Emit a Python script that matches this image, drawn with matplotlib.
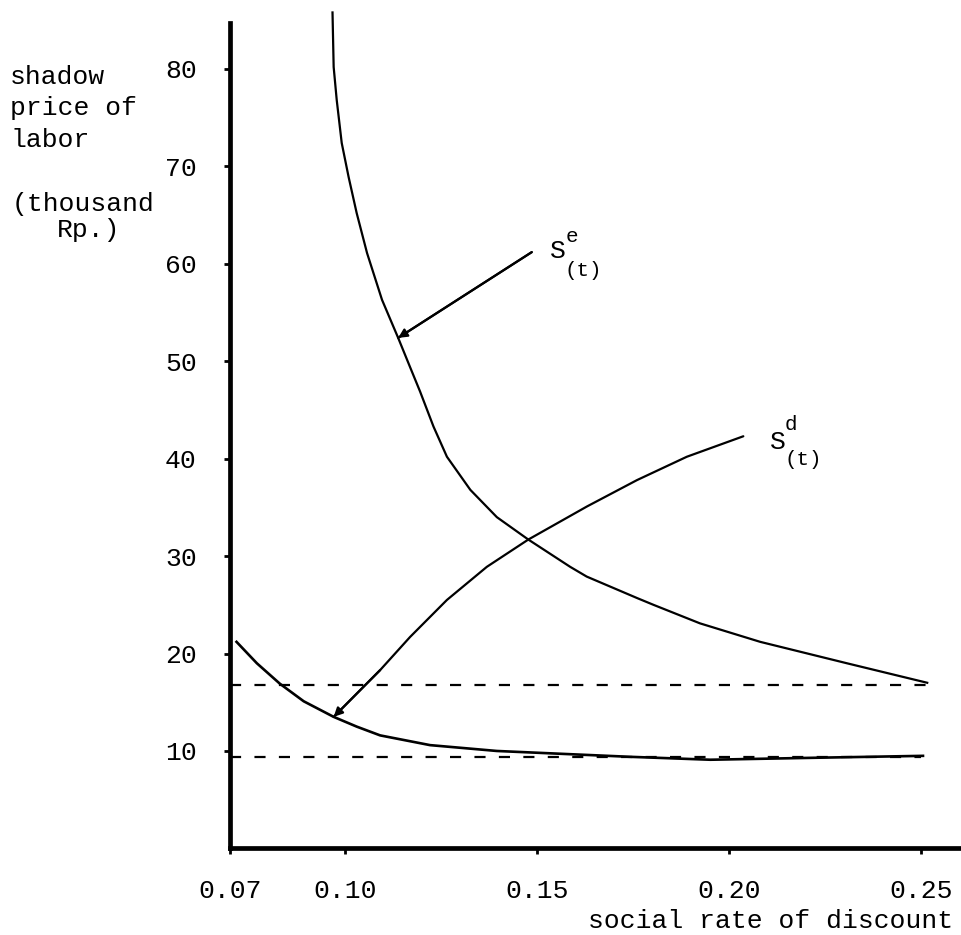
import matplotlib
matplotlib.use('Agg')
import matplotlib.pyplot as plt

# social rate of discount (x) vs shadow price of labor, thousand Rp. (y)
se_x = [0.0967, 0.0970, 0.0978, 0.0991, 0.1009, 0.1030, 0.1057, 0.1096, 0.1138, 0.1169,
        0.1195, 0.1230, 0.1265, 0.1326, 0.1395, 0.1477, 0.1586, 0.1629, 0.1760, 0.1803,
        0.1924, 0.2081, 0.2307, 0.2516]
se_y = [85.8, 80.2, 76.8, 72.4, 68.9, 65.2, 61.1, 56.3, 52.4, 49.4,
        46.9, 43.3, 40.2, 36.8, 34.0, 31.7, 28.9, 27.9, 25.7, 25.0,
        23.1, 21.2, 19.0, 17.0]

sd_x = [0.0717, 0.0770, 0.0830, 0.0892, 0.0970, 0.1030, 0.1091, 0.1221, 0.1395,
        0.1568, 0.1742, 0.1951, 0.2220, 0.2505]
sd_y = [21.2, 19.0, 16.9, 15.1, 13.5, 12.5, 11.6, 10.6, 10.0,
        9.7, 9.4, 9.1, 9.3, 9.5]

# dashed reference levels
upper_level = 16.8
upper_level_x = [0.07, 0.2525]
lower_level = 9.35
lower_level_x = [0.07, 0.2500]

# pointer lines from the labels to the curves
arrow_e_x = [0.1486, 0.1138]
arrow_e_y = [61.2, 52.4]
arrow_d_x = [0.2037, 0.1890, 0.1760, 0.1630, 0.1477, 0.1369, 0.1265, 0.1169, 0.1091, 0.0970]
arrow_d_y = [42.3, 40.2, 37.8, 35.1, 31.7, 28.9, 25.5, 21.7, 18.3, 13.5]

x_ticks = [0.07, 0.10, 0.15, 0.20, 0.25]
x_tick_labels = ['0.07', '0.10', '0.15', '0.20', '0.25']
y_ticks = [10, 20, 30, 40, 50, 60, 70, 80]
y_tick_labels = ['10', '20', '30', '40', '50', '60', '70', '80']

MONO = 'Liberation Mono'
W, H = 961, 935
plt.rcParams['font.family'] = [MONO, 'DejaVu Sans']


def fpos(x, y):
    """ pixel position -> figure fraction """
    return x / W, 1 - y / H


def pointer(ax, xs, ys):
    ax.plot(xs, ys, color='black', lw=1.6, solid_capstyle='round')
    ax.annotate('', xy=(xs[-1], ys[-1]), xytext=(xs[-2], ys[-2]),
                arrowprops=dict(arrowstyle='-|>', color='black', lw=1.6,
                                mutation_scale=13, shrinkA=0, shrinkB=0))


fig = plt.figure(figsize=(9.61, 9.35), dpi=100)
ax = fig.add_axes([230 / W, 1 - 848.4 / H, 731 / W, 837.9 / H])
ax.set_xlim(0.07, 0.2604)
ax.set_ylim(0, 86)

ax.plot(se_x, se_y, color='black', lw=1.6)
ax.plot(sd_x, sd_y, color='black', lw=1.9)
ax.plot(upper_level_x, [upper_level] * 2, color='black', lw=1.6, linestyle=(0, (5, 6)))
ax.plot(lower_level_x, [lower_level] * 2, color='black', lw=1.6, linestyle=(0, (5, 6)))

pointer(ax, arrow_e_x, arrow_e_y)
pointer(ax, arrow_d_x, arrow_d_y)

for side in ['top', 'right']:
    ax.spines[side].set_visible(False)
ax.spines['left'].set_linewidth(3.4)
ax.spines['bottom'].set_linewidth(3.4)
ax.spines['left'].set_bounds(0, 84.7)

fs = 19
ax.set_xticks(x_ticks)
ax.set_xticklabels(x_tick_labels)
ax.set_yticks(y_ticks)
ax.set_yticklabels(y_tick_labels)
ax.tick_params(axis='both', direction='out', length=4, width=2, labelsize=fs)
ax.tick_params(axis='y', pad=20)
ax.tick_params(axis='x', pad=18)

# axis titles
fig.text(*fpos(10, 77), 'shadow', ha='left', va='center', fontsize=fs)
fig.text(*fpos(10, 108), 'price of', ha='left', va='center', fontsize=fs)
fig.text(*fpos(10, 140), 'labor', ha='left', va='center', fontsize=fs)
fig.text(*fpos(12, 204), '(thousand', ha='left', va='center', fontsize=fs)
fig.text(*fpos(57, 230), 'Rp.)', ha='left', va='center', fontsize=fs)
fig.text(*fpos(953, 921), 'social rate of discount', ha='right', va='center', fontsize=fs)

# curve labels
fig.text(*fpos(550, 251), 'S', ha='left', va='center', fontsize=fs)
fig.text(*fpos(566, 236), 'e', ha='left', va='center', fontsize=15)
fig.text(*fpos(565, 270), '(t)', ha='left', va='center', fontsize=15)
fig.text(*fpos(770, 442), 'S', ha='left', va='center', fontsize=fs)
fig.text(*fpos(785, 424), 'd', ha='left', va='center', fontsize=15)
fig.text(*fpos(785, 459), '(t)', ha='left', va='center', fontsize=15)

fig.savefig('out.png', dpi=100)
